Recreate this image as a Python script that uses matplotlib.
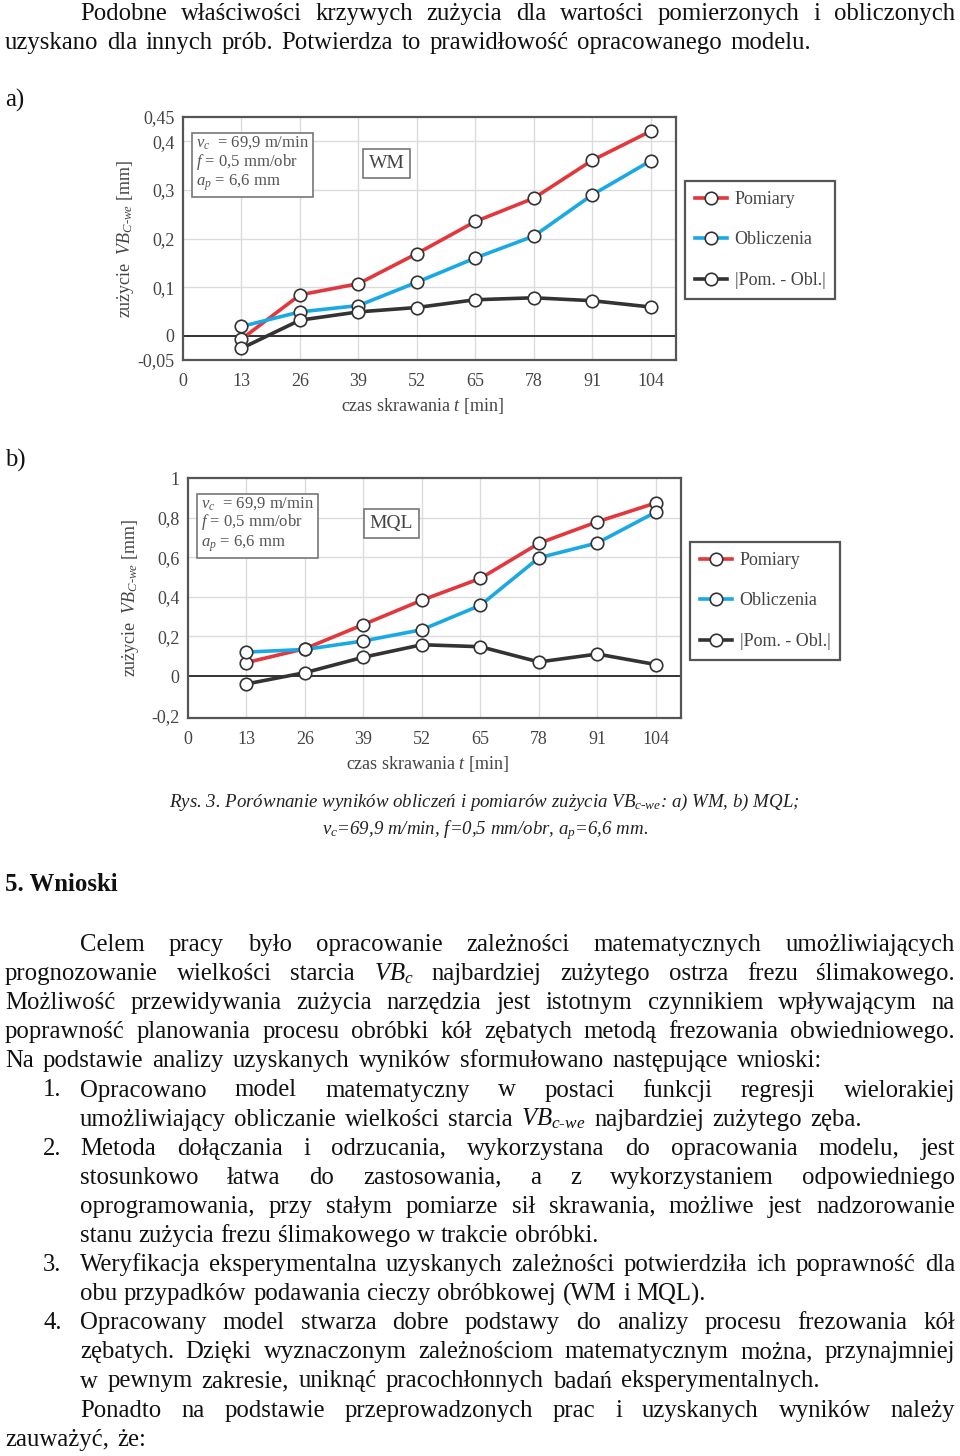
import matplotlib
matplotlib.use("Agg")
import matplotlib.pyplot as plt
from matplotlib.lines import Line2D

plt.rcParams["font.family"] = ["Liberation Serif", "DejaVu Serif"]
plt.rcParams["mathtext.fontset"] = "custom"
plt.rcParams["mathtext.rm"] = "Liberation Serif"
plt.rcParams["mathtext.it"] = "Liberation Serif:italic"
plt.rcParams["mathtext.bf"] = "Liberation Serif:bold"

W, H = 960, 1456

# dane z wykresów
czas = [13, 26, 39, 52, 65, 78, 91, 104]
wm_pom = [-0.007, 0.084, 0.107, 0.169, 0.235, 0.283, 0.361, 0.421]
wm_obl = [0.019, 0.049, 0.062, 0.110, 0.160, 0.205, 0.290, 0.360]
wm_roz = [-0.026, 0.032, 0.049, 0.058, 0.074, 0.078, 0.072, 0.059]
mql_pom = [0.068, 0.138, 0.260, 0.383, 0.493, 0.670, 0.779, 0.874]
mql_obl = [0.121, 0.134, 0.177, 0.234, 0.357, 0.597, 0.672, 0.828]
mql_roz = [-0.040, 0.017, 0.095, 0.158, 0.148, 0.071, 0.111, 0.058]
wm_yticks = [-0.05, 0, 0.1, 0.2, 0.3, 0.4, 0.45]
mql_yticks = [-0.2, 0, 0.2, 0.4, 0.6, 0.8, 1.0]
seria = ["Pomiary", "Obliczenia", "|Pom. - Obl.|"]
kolory = ["#e2373c", "#1aa9e3", "#333333"]

fig = plt.figure(figsize=(W / 100, H / 100), dpi=100)
r = fig.canvas.get_renderer()


def fx(x):
    return x / W


def fy(y):
    return 1 - y / H


def fmt(v):
    if v == 0:
        return "0"
    if v == 1:
        return "1"
    return ("%g" % v).replace(".", ",")


def wykres(box, dane, yticks, ylim, ygrid, tag):
    l, t, rr, b = box
    ax = fig.add_axes([fx(l), fy(b), (rr - l) / W, (b - t) / H])
    for xv in czas:
        ax.axvline(xv, color="#dcdcdc", lw=1.0, zorder=0)
    for yv in ygrid:
        ax.axhline(yv, color="#dcdcdc", lw=1.0, zorder=0)
    ax.axhline(0, color="#222222", lw=1.3, zorder=1)
    for ys, c in zip(dane, kolory):
        ax.plot(czas, ys, color=c, lw=2.6, marker="o", ms=9, mfc="white",
                mec="#333333", mew=1.2, zorder=3)
    ax.set_xlim(0, 109.6)
    ax.set_ylim(*ylim)
    ax.set_xticks([0] + czas)
    ax.set_yticks(yticks)
    ax.set_yticklabels([fmt(v) for v in yticks])
    ax.tick_params(length=0, labelsize=13, colors="#444444")
    ax.tick_params(axis="x", pad=9)
    ax.tick_params(axis="y", pad=6)
    for s in ax.spines.values():
        s.set_color("#555555")
        s.set_linewidth(1.6)
    ax.set_xlabel("czas skrawania $t$ [min]", fontsize=13, color="#444444")
    ax.set_ylabel("zużycie  $VB_{C\\text{-}we}$ [mm]", fontsize=13,
                  color="#444444")
    ax.xaxis.set_label_coords(0.485, -0.15)
    ax.yaxis.set_label_coords(-0.096, 0.5)
    ax.text(0.026, 0.93,
            "$v_c$  = 69,9 m/min\n$f$ = 0,5 mm/obr\n$a_p$ = 6,6 mm",
            transform=ax.transAxes, ha="left", va="top", fontsize=12,
            color="#555555", linespacing=1.05, zorder=5,
            bbox=dict(boxstyle="square,pad=0.25", fc="white", ec="#777777", lw=1.2))
    ax.text(0.413, 0.81, tag, transform=ax.transAxes, ha="center", va="center",
            fontsize=14, color="#444444", zorder=5,
            bbox=dict(boxstyle="square,pad=0.3", fc="white", ec="#777777", lw=1.2))
    uchwyty = [Line2D([], [], color=c, lw=2.6, marker="o", ms=9, mfc="white",
                      mec="#333333", mew=1.2) for c in kolory]
    leg = ax.legend(uchwyty, seria, loc="upper left",
                    bbox_to_anchor=(fx(rr + 9), fy(t + 64)),
                    bbox_transform=fig.transFigure, borderaxespad=0,
                    fontsize=13, labelspacing=1.3, handlelength=1.8,
                    handletextpad=0.4, borderpad=0.55, fancybox=False,
                    framealpha=1, labelcolor="#444444")
    leg.get_frame().set_edgecolor("#555555")
    leg.get_frame().set_linewidth(1.6)
    return ax


wykres((183, 117, 676, 360), [wm_pom, wm_obl, wm_roz], wm_yticks,
       (-0.05, 0.45), [0.1, 0.2, 0.3, 0.4], "WM")
wykres((188, 478, 681, 718), [mql_pom, mql_obl, mql_roz], mql_yticks,
       (-0.212, 1.0), [0.2, 0.4, 0.6, 0.8], "MQL")

# tekst strony
SIZE = 17.8


def szer(s, size, **kw):
    t = fig.text(0, 0, s, fontsize=size, **kw)
    w = t.get_window_extent(renderer=r).width
    t.remove()
    return w


def linia(x0, x1, yb, s, size=SIZE, **kw):
    words = s.split(" ")
    ws = [szer(w, size, **kw) for w in words]
    gap = 0
    if len(words) > 1:
        gap = max((x1 - x0 - sum(ws)) / (len(words) - 1), 2.5)
    x = x0
    for w, wd in zip(words, ws):
        fig.text(fx(x), fy(yb), w, fontsize=size, ha="left", va="baseline",
                 color="#111111", **kw)
        x += wd + gap


linia(80, 955, 20, "Podobne właściwości krzywych zużycia dla wartości pomierzonych i obliczonych")
linia(5, 811, 49, "uzyskano dla innych prób. Potwierdza to prawidłowość opracowanego modelu.")
fig.text(fx(5), fy(107), "a)", fontsize=SIZE, va="baseline", color="#111111")
fig.text(fx(5), fy(467), "b)", fontsize=SIZE, va="baseline", color="#111111")

fig.text(fx(484), fy(807),
         "Rys. 3. Porównanie wyników obliczeń i pomiarów zużycia $VB_{c\\text{-}we}$: a) WM, b) MQL;",
         fontsize=13.6, style="italic", ha="center", va="baseline", color="#222222")
fig.text(fx(485), fy(834), "$v_c$=69,9 m/min, $f$=0,5 mm/obr, $a_p$=6,6 mm.",
         fontsize=13.6, style="italic", ha="center", va="baseline", color="#222222")

fig.text(fx(5), fy(891), "5. Wnioski", fontsize=SIZE, weight="bold",
         va="baseline", color="#111111")

y0, dy = 951, 29.1
tekst = [
    (80, 955, "Celem pracy było opracowanie zależności matematycznych umożliwiających", None),
    (5, 955, "prognozowanie wielkości starcia $VB_c$ najbardziej zużytego ostrza frezu ślimakowego.", None),
    (5, 955, "Możliwość przewidywania zużycia narzędzia jest istotnym czynnikiem wpływającym na", None),
    (5, 955, "poprawność planowania procesu obróbki kół zębatych metodą frezowania obwiedniowego.", None),
    (5, 822, "Na podstawie analizy uzyskanych wyników sformułowano następujące wnioski:", None),
    (80, 955, "Opracowano model matematyczny w postaci funkcji regresji wielorakiej", "1."),
    (80, 862, "umożliwiający obliczanie wielkości starcia $VB_{c\\text{-}we}$ najbardziej zużytego zęba.", None),
    (80, 955, "Metoda dołączania i odrzucania, wykorzystana do opracowania modelu, jest", "2."),
    (80, 955, "stosunkowo łatwa do zastosowania, a z wykorzystaniem odpowiedniego", None),
    (80, 955, "oprogramowania, przy stałym pomiarze sił skrawania, możliwe jest nadzorowanie", None),
    (80, 598, "stanu zużycia frezu ślimakowego w trakcie obróbki.", None),
    (80, 955, "Weryfikacja eksperymentalna uzyskanych zależności potwierdziła ich poprawność dla", "3."),
    (80, 706, "obu przypadków podawania cieczy obróbkowej (WM i MQL).", None),
    (80, 955, "Opracowany model stwarza dobre podstawy do analizy procesu frezowania kół", "4."),
    (80, 955, "zębatych. Dzięki wyznaczonym zależnościom matematycznym można, przynajmniej", None),
    (80, 820, "w pewnym zakresie, uniknąć pracochłonnych badań eksperymentalnych.", None),
    (80, 955, "Ponadto na podstawie przeprowadzonych prac i uzyskanych wyników należy", None),
    (5, 146, "zauważyć, że:", None),
]
for k, (x0, x1, s, nr) in enumerate(tekst):
    yb = y0 + dy * k
    linia(x0, x1, yb, s)
    if nr:
        fig.text(fx(43), fy(yb), nr, fontsize=SIZE, va="baseline", color="#111111")

fig.savefig("out.png", dpi=100)
